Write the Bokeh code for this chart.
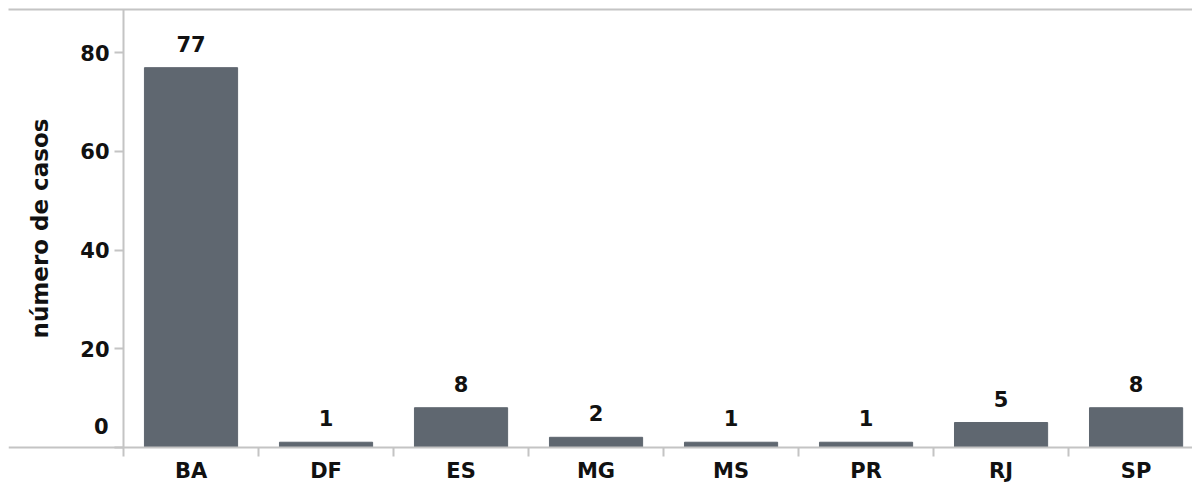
from bokeh.plotting import figure
from bokeh.models import Range1d, FixedTicker, LinearAxis, ColumnDataSource
from bokeh.embed import file_html
from bokeh.resources import INLINE
from bokeh.core.properties import value

# ---- data ----
states = ["BA", "DF", "ES", "MG", "MS", "PR", "RJ", "SP"]
cases = [77, 1, 8, 2, 1, 1, 5, 8]
y_ticks = [0, 20, 40, 60, 80]
y_label = "número de casos"

FONT = "DejaVu Sans"
BAR = "#5f6770"
AXIS = "#c4c4c4"
TXT = "#111111"
FS = "21px"

centers = [i + 0.5 for i in range(len(states))]
bounds = list(range(len(states) + 1))
y_top = 88.8

src = ColumnDataSource(dict(x=centers, top=cases, lbl=[str(v) for v in cases]))

p = figure(width=1192, height=485, output_backend="svg", toolbar_location=None,
           x_range=Range1d(-0.852, 7.918), y_range=Range1d(-7.78, y_top),
           min_border_left=8, min_border_right=0, min_border_top=9, min_border_bottom=0,
           x_axis_location="below", y_axis_location="left")
p.outline_line_color = None
p.grid.visible = False
p.background_fill_color = "white"

p.vbar(x="x", top="top", bottom=0, width=0.69, source=src, fill_color=BAR, line_color=BAR, line_width=1)
p.text(x="x", y="top", text="lbl", source=src, text_align="center", text_baseline="alphabetic",
       y_offset=-24, text_font=value(FONT), text_font_style="bold", text_font_size=FS,
       text_color=TXT)

# x axis (drawn at y = 0 inside the frame)
xa = p.xaxis[0]
xa.fixed_location = 0
xa.ticker = FixedTicker(ticks=centers, minor_ticks=bounds)
xa.major_label_overrides = {c: s for c, s in zip(centers, states)}
xa.major_tick_line_color = None
xa.major_tick_out = 0
xa.major_tick_in = 0
xa.minor_tick_line_color = AXIS
xa.minor_tick_line_width = 2
xa.minor_tick_out = 9
xa.minor_tick_in = 0
xa.axis_line_color = AXIS
xa.axis_line_width = 2
xa.major_label_text_font = FONT
xa.major_label_text_font_style = "bold"
xa.major_label_text_font_size = FS
xa.major_label_text_color = TXT
xa.major_label_standoff = 3

# y axis (drawn at x = 0 inside the frame)
ya = p.yaxis[0]
ya.fixed_location = 0
ya.bounds = (0, y_top)
ya.ticker = FixedTicker(ticks=y_ticks)
ya.major_label_overrides = {y_ticks[0]: ""}
ya.minor_tick_line_color = None
ya.major_tick_line_color = AXIS
ya.major_tick_line_width = 2
ya.major_tick_out = 9
ya.major_tick_in = 0
ya.axis_line_color = AXIS
ya.axis_line_width = 2
ya.major_label_text_font = FONT
ya.major_label_text_font_style = "bold"
ya.major_label_text_font_size = FS
ya.major_label_text_color = TXT
ya.major_label_standoff = 5
ya.axis_label = y_label
ya.axis_label_text_font = FONT
ya.axis_label_text_font_style = "bold"
ya.axis_label_text_font_size = "23px"
ya.axis_label_text_color = TXT
ya.axis_label_standoff = 24

# the "0" tick label sits just above the baseline, as in the original
p.text(x=[0], y=[y_ticks[0]], text=[str(y_ticks[0])], text_align="right", text_baseline="alphabetic",
       x_offset=-15, y_offset=-21, text_font=value(FONT), text_font_style="bold",
       text_font_size=FS, text_color=TXT)

# top line
ta = LinearAxis(ticker=FixedTicker(ticks=[]), major_label_text_font_size="0px",
                major_tick_line_color=None, minor_tick_line_color=None,
                axis_line_color=AXIS, axis_line_width=2)
p.add_layout(ta, "above")

open("out.html", "w").write(file_html(p, INLINE))
